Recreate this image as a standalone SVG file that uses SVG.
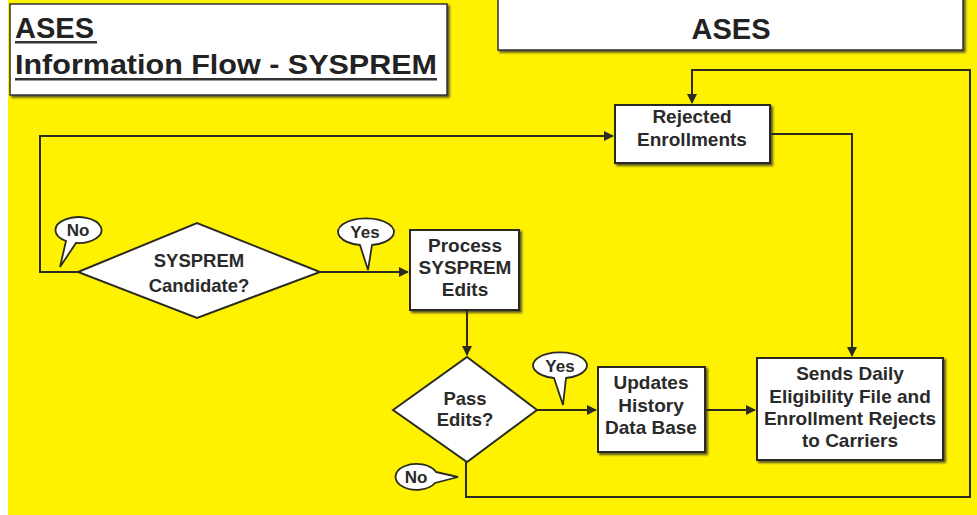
<svg xmlns="http://www.w3.org/2000/svg" width="977" height="515" viewBox="0 0 977 515">
<defs>
<marker id="arr" viewBox="0 0 10 10" refX="9" refY="5" markerWidth="5" markerHeight="5" orient="auto" markerUnits="strokeWidth">
<path d="M0,0 L10,5 L0,10 Z" fill="#2b2b20"/>
</marker>
<filter id="sh" x="-5%" y="-5%" width="115%" height="115%">
<feDropShadow dx="2" dy="2" stdDeviation="0.8" flood-color="#333" flood-opacity="0.8"/>
</filter>
</defs>
<style>
.bg{fill:#fff200}
.box{fill:#fff;stroke:#2b2b20;stroke-width:2}
.line{fill:none;stroke:#2b2b20;stroke-width:2}
.t{font-family:"Liberation Sans",Arial,sans-serif;font-weight:bold;font-size:19px;fill:#2a2a2a;text-anchor:middle}
.d{font-size:18.5px}
.b{font-size:17px}
.title{font-family:"Liberation Sans",Arial,sans-serif;font-weight:bold;fill:#222}
.bub{fill:#fff;stroke:#2b2b20;stroke-width:1.8}
</style>
<rect x="0" y="0" width="977" height="515" fill="#fff"/>
<rect class="bg" x="8" y="0" width="969" height="515"/>

<g id="title">
<rect x="10" y="4" width="437" height="91" fill="#fff" stroke="#333" stroke-width="1.5" filter="url(#sh)"/>
<text class="title" x="15" y="38" font-size="29">ASES</text>
<rect x="15" y="41" width="82" height="2.5" fill="#333"/>
<text class="title" x="15" y="74" font-size="28" textLength="422" lengthAdjust="spacingAndGlyphs">Information Flow - SYSPREM</text>
<rect x="15" y="78" width="422" height="2.5" fill="#333"/>
</g>

<g id="ases-header">
<rect x="498" y="-2" width="465" height="52" fill="#fff" stroke="#333" stroke-width="1.5" filter="url(#sh)"/>
<text class="title" x="731" y="39" font-size="29" text-anchor="middle">ASES</text>
</g>

<g id="connectors">
<path class="line" d="M78,272 H40 V136 H613" marker-end="url(#arr)"/>
<path class="line" d="M320,272 H408" marker-end="url(#arr)"/>
<path class="line" d="M467,310 V355" marker-end="url(#arr)"/>
<path class="line" d="M537,410 H596" marker-end="url(#arr)"/>
<path class="line" d="M705,410 H755" marker-end="url(#arr)"/>
<path class="line" d="M770,134 H852 V356" marker-end="url(#arr)"/>
<path class="line" d="M466,462 V497 H970 V70 H692 V103" marker-end="url(#arr)"/>
</g>

<g id="rejected">
<rect class="box" x="615" y="105" width="155" height="58" filter="url(#sh)"/>
<text class="t" x="692" y="123">Rejected</text>
<text class="t" x="692" y="146">Enrollments</text>
</g>

<g id="candidate">
<polygon class="box" points="78,272 197,223 320,272 197,318"/>
<text class="t d" x="199" y="267">SYSPREM</text>
<text class="t d" x="199" y="292">Candidate?</text>
</g>

<g id="process">
<rect class="box" x="410" y="230" width="109" height="80" filter="url(#sh)"/>
<text class="t" x="465" y="252">Process</text>
<text class="t" x="465" y="274">SYSPREM</text>
<text class="t" x="465" y="296">Edits</text>
</g>

<g id="pass">
<polygon class="box" points="393,410 467,357 537,410 467,462"/>
<text class="t d" x="465" y="405">Pass</text>
<text class="t d" x="465" y="426">Edits?</text>
</g>

<g id="updates">
<rect class="box" x="598" y="367" width="107" height="85" filter="url(#sh)"/>
<text class="t" x="651" y="389">Updates</text>
<text class="t" x="651" y="412">History</text>
<text class="t" x="651" y="434">Data Base</text>
</g>

<g id="sends">
<rect class="box" x="757" y="358" width="186" height="102" filter="url(#sh)"/>
<text class="t" x="850" y="380">Sends Daily</text>
<text class="t" x="850" y="403">Eligibility File and</text>
<text class="t" x="850" y="425">Enrollment Rejects</text>
<text class="t" x="850" y="447">to Carriers</text>
</g>

<g id="bubble-no-1">
<path class="bub" d="M66,241 L60,267 L76,243 A23 13 0 1 0 66,241 Z"/>
<text class="t b" x="78" y="236">No</text>
</g>
<g id="bubble-yes-1">
<path class="bub" d="M360,245 L368,270 L372,245 A28 13.5 0 1 0 360,245 Z"/>
<text class="t b" x="365" y="238">Yes</text>
</g>
<g id="bubble-yes-2">
<path class="bub" d="M554,378 L563,405 L566,378 A27 13 0 1 0 554,378 Z"/>
<text class="t b" x="560" y="372">Yes</text>
</g>
<g id="bubble-no-2">
<path class="bub" d="M436,472 L458,477 L435,483 A21 13 0 1 1 436,472 Z"/>
<text class="t b" x="416" y="483">No</text>
</g>
</svg>
